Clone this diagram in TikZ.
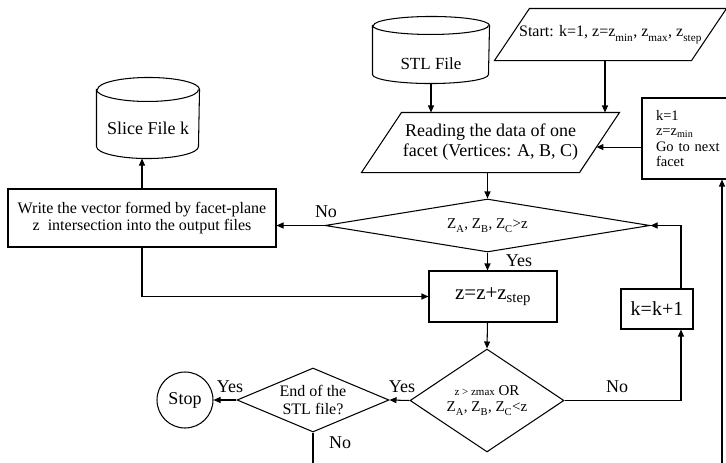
\documentclass[tikz,border=0pt]{standalone}
\usepackage{fontspec}
\setmainfont{Liberation Serif}
\usetikzlibrary{shapes.geometric,arrows.meta,calc}

% outline of a vertical data-store cylinder drawn around a holder node
\newcommand\storeoutline[3]{%
  \draw ([yshift=-#3pt]#1.north west) -- ([yshift=#3pt]#1.south west)
    arc[start angle=180, end angle=360, x radius=#2pt, y radius=#3pt]
    -- ([yshift=-#3pt]#1.north east)
    arc[start angle=0, end angle=180, x radius=#2pt, y radius=#3pt] -- cycle;
  \draw ([yshift=-#3pt]#1.north west)
    arc[start angle=180, end angle=360, x radius=#2pt, y radius=#3pt];}
% outline of an input/output parallelogram drawn around a holder node
\newcommand\iooutline[2]{%
  \draw ([xshift=#2pt]#1.north west) -- (#1.north east)
    -- ([xshift=-#2pt]#1.south east) -- (#1.south west) -- cycle;}
% a subscript set a little lower than usual
\newcommand\lsub[1]{\raisebox{-0.35ex}{\textsubscript{#1}}}

\begin{document}
\begin{tikzpicture}[x=1pt, y=-1pt, line width=1.05pt,
  arr/.style={-{Triangle[length=7pt,width=6pt]}},
  box/.style={draw, rectangle, inner sep=0pt},
  dec/.style={draw, diamond, inner sep=0pt},
  holder/.style={rectangle, inner sep=0pt},
  lbl/.style={font=\fontsize{18}{18}\selectfont}]
\useasboundingbox (0,0) rectangle (726,463);

% data stores
\node[holder, minimum width=116pt, minimum height=66pt,
  label={[font=\fontsize{17}{18}\selectfont, yshift=-14pt]center:STL File}]
  (stl) at (431,50) {};
\storeoutline{stl}{58}{9}

\node[holder, minimum width=102pt, minimum height=80pt,
  label={[font=\fontsize{18}{20}\selectfont, yshift=-10pt]center:Slice File k}]
  (slice) at (148,118) {};
\storeoutline{slice}{51}{12}

% input / output
\node[holder, minimum width=231pt, minimum height=51pt,
  font=\fontsize{16}{18}\selectfont] (start) at (610.5,34.5)
  {Start: k=1, z=z\lsub{min}, z\lsub{max}, z\lsub{step}};
\iooutline{start}{35}

\node[holder, minimum width=257pt, minimum height=59pt, align=center,
  font=\fontsize{18}{20}\selectfont] (reading) at (490.5,142.5)
  {Reading the data of one\\facet (Vertices: A, B, C)};
\iooutline{reading}{40}

% processes
\node[box, minimum height=81pt, text width=75pt, inner xsep=14pt, align=left,
  font=\fontsize{14.5}{15.5}\selectfont] (k1) at (693.5,138.5)
  {k=1\\z=z\textsubscript{min}\\Go to next\\facet};

\node[box, minimum width=268pt, minimum height=58pt, align=center,
  font=\fontsize{16}{17}\selectfont] (write) at (142,218)
  {Write the vector formed by facet-plane\\z\ \ intersection into the output files};

\node[box, minimum width=128pt, minimum height=51pt,
  font=\fontsize{21}{22}\selectfont] (zstep) at (493,296.5) {z=z+z\textsubscript{step}};

\node[box, minimum width=72pt, minimum height=40pt,
  font=\fontsize{20}{22}\selectfont] (kk) at (657,309) {k=k+1};

% decisions
\node[dec, minimum width=325pt, minimum height=53pt, aspect=6.13,
  font=\fontsize{15}{16}\selectfont] (d1) at (487.5,225.5)
  {Z\lsub{A}, Z\lsub{B}, Z\lsub{C}>z};

\node[dec, minimum width=154pt, minimum height=103pt, aspect=1.5, align=center,
  font=\fontsize{15}{16}\selectfont] (d2) at (487,400.5)
  {{\fontsize{11}{11}\selectfont z > zmax} OR\\Z\lsub{A}, Z\lsub{B}, Z\lsub{C}<z};

\node[dec, minimum width=152pt, minimum height=64pt, aspect=2.4, align=center,
  font=\fontsize{16}{18}\selectfont] (d3) at (313,400)
  {End of the\\STL file?};

\node[draw, circle, minimum size=56pt, inner sep=0pt,
  font=\fontsize{18}{18}\selectfont] (stop) at (185,400) {Stop};

% connectors
\draw[arr] (stl.south) -- (stl.south |- reading.north);
\draw[arr] ([xshift=-5.5pt]start.south) -- ([xshift=-5.5pt]start.south |- reading.north);
\draw[arr] (d1.north |- reading.south) -- (d1.north);
\coordinate (redge) at ($(reading.north east)!0.576!([xshift=-40pt]reading.south east)$);
\draw[arr] (k1.west |- redge) -- (redge);

\draw[arr] (d1.west) -- (d1.west -| write.east);
\node[lbl] (no1) at (326,212) {No};
\draw[arr] (write.north) -- (write.north |- slice.south);
\draw[arr] (write.south) |- (zstep.west);

\draw[arr] (d1.south) -- (d1.south |- zstep.north);
\node[lbl] (yes1) at (519,261) {Yes};
\draw[arr] (d1.south |- zstep.south) -- (d2.north);

\draw[arr] (d2.east) -| ([xshift=24pt]kk.south);
\node[lbl] (no2) at (617,387) {No};
\draw[arr] ([xshift=24pt]kk.north) |- (d1.east);

\draw[arr] (d2.west) -- (d3.east);
\node[lbl] (yes2) at (402,387) {Yes};
\draw[arr] (d3.west) -- (stop.east);
\node[lbl] (yes3) at (230,387) {Yes};

\coordinate (loop) at (722,475);
\draw[arr] (d3.south) |- (loop) -- (loop |- k1.south);
\node[lbl] (no3) at (340,443) {No};
\end{tikzpicture}
\end{document}
